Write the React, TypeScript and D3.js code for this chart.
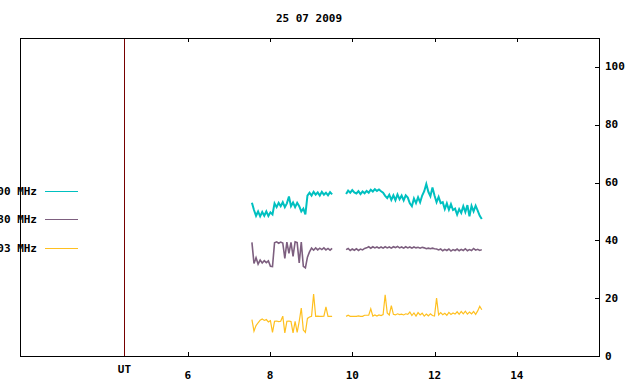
import * as d3 from "d3"

// time grid: two recording segments, sampled every 0.05 h
const segAStart = 7.56
const segBStart = 9.85
const step = 0.05

const xTicks = [6, 8, 10, 12, 14]
const yTicks = [0, 20, 40, 60, 80, 100]
const utTime = 4.46
const title = "25 07 2009"

const cyanA = [
  53, 50.5, 48.5, 50, 48.3, 49.8, 48.5, 50, 48.4, 49.7, 49, 52.8, 51.5, 53, 51.8, 53.2, 51.5, 52.8, 55.2, 51.8,
  53.1, 51.5, 53, 51.8, 50, 51, 49, 55.5, 56.5, 55.5, 56.8, 55.8, 56.6, 55.5, 56.8, 55.8, 56.5, 55.6, 56.7, 55.9,
]
const cyanB = [
  56, 57.2, 56.5, 57.4, 56.6, 56.2, 57, 56, 56.9, 56.3, 57.1, 56.5, 57.5, 56.9, 57.7, 57.1, 57.6, 57, 56.5, 55.4,
  54.6, 55.8, 54, 55.6, 53.9, 55.9, 54.2, 55.5, 53.8, 55.6, 54.8, 52.8, 51.8, 54.5, 52.9, 54.9, 53.2, 55.5, 57, 59.5,
  56.8, 55.3, 58.3, 55.5, 53.2, 55, 52.9, 53.2, 50.8, 52.8, 50.6, 52.5, 50.5, 51, 48.9, 50.8, 49.5, 51.8, 49.8, 52.2,
  48.3, 51.9, 50, 52, 50.3, 48.5, 47.4,
]

const purpleA = [
  39.3, 32, 34, 31.8, 33.2, 32.2, 33, 32.3, 32.9, 31, 30.9, 39.2, 39.5, 39, 39.4, 39.1, 33.8, 39.4, 35.5, 39.3,
  34.5, 39.5, 39.2, 32.2, 39.4, 31, 30.5, 34.2, 36, 37.3, 36.6, 37.4, 36.7, 37.3, 36.8, 37.4, 36.7, 37.2, 36.6, 37.2,
]
const purpleB = [
  36.8, 37.2, 36.5, 37, 36.6, 37.1, 36.5, 37, 36.7, 37.2, 37.4, 37.8, 37.3, 37.8, 37.4, 37.7, 37.3, 37.7, 37.3, 37.8,
  37.4, 37.7, 37.3, 37.8, 37.5, 37.9, 37.4, 37.7, 37.3, 37.8, 37.4, 37.7, 37.3, 37.7, 37.4, 37.6, 37.3, 37.6, 37.4, 37.1,
  37.3, 37.1, 37.3, 37.1, 37, 36.7, 37, 36.4, 36.9, 36.5, 37, 36.3, 36.8, 36.5, 37, 36.4, 36.9, 36.5, 37.1, 36.4,
  36.8, 36.5, 37.2, 36.6, 36.9, 36.5, 36.8,
]

const yellowA = [
  12.6, 8.6, 10.5, 11.5, 12.4, 12.8, 12.3, 12.6, 11.8, 12.2, 8.2, 12, 12.1, 11.9, 12, 13.8, 8, 12, 12.1, 11.9,
  8, 12, 8.2, 12, 16.6, 9, 8.2, 13, 13.5, 13.7, 21.4, 13.7, 13.8, 13.7, 13.7, 13.8, 17, 13.7, 13.7, 13.7,
]
const yellowB = [
  13.7, 14.1, 13.7, 13.7, 13.7, 13.7, 13.9, 13.7, 13.7, 14.1, 14.1, 14.1, 16.3, 13.8, 14.2, 13.8, 14.2, 14, 14.3, 21.2,
  14.9, 14.2, 17.4, 14.4, 14.2, 14.6, 14.3, 14.5, 14.2, 14.6, 14.4, 15.2, 14, 14.9, 13.8, 15, 14.2, 14.8, 13.8, 14.5,
  13.9, 14.6, 14, 13.8, 20, 14.2, 15, 14.3, 14.8, 14.1, 15.1, 14.4, 14.9, 14.5, 15.3, 14.4, 15.4, 14.6, 15.5, 14.5,
  15.2, 14.6, 15.4, 14.4, 15.6, 17.2, 16,
]

const seriesNames = ["2800 MHz", "1980 MHz", "1403 MHz"]
const seriesColors = ["#00c0c0", "#7d5f7f", "#ffc020"]
const seriesData = [
  [cyanA, cyanB],
  [purpleA, purpleB],
  [yellowA, yellowB],
]

const W = 640
const H = 384
const left = 20
const right = 599
const top = 38
const bottom = 356
const font = "'DejaVu Sans Mono', monospace"
// noisy records look like a thick band in the original
const bandWidths = [2, 1.6, 1.2]

const App = () => {
  const x = d3.scaleLinear().domain([1.92, 16]).range([left, right])
  const y = d3.scaleLinear().domain([0, 110]).range([bottom, top])

  const line = d3
    .line<number[]>()
    .x((d) => x(d[0]))
    .y((d) => y(d[1]))

  const toPoints = (vals: number[], start: number) => vals.map((v, i) => [start + i * step, v])

  const utX = Math.round(x(utTime)) + 0.5

  return (
    <svg
      width={W}
      height={H}
      style={{ position: "absolute", left: 0, top: 0, display: "block", background: "#fff" }}
      fontFamily={font}
      fontWeight="bold"
      fontSize={11}
    >
      {/* title */}
      <text x={309} y={18} textAnchor="middle" dominantBaseline="central">
        {title}
      </text>

      {/* UT marker */}
      <line x1={utX} x2={utX} y1={top} y2={bottom} stroke="#760000" shapeRendering="crispEdges" />
      <text x={x(utTime)} y={369} textAnchor="middle" dominantBaseline="central">
        UT
      </text>

      {/* data */}
      {seriesData.map((segs, si) =>
        segs.map((vals, k) => (
          <path
            key={`${si}-${k}`}
            d={line(toPoints(vals, k === 0 ? segAStart : segBStart)) || ""}
            fill="none"
            stroke={seriesColors[si]}
            strokeWidth={bandWidths[si]}
            strokeLinejoin="miter"
          />
        ))
      )}

      {/* frame */}
      <rect x={left + 0.5} y={top + 0.5} width={right - left} height={bottom - top} fill="none" stroke="#000" shapeRendering="crispEdges" />

      {/* x ticks, mirrored on top */}
      {xTicks.map((t) => {
        const px = Math.round(x(t)) + 0.5
        return (
          <g key={t}>
            <line x1={px} x2={px} y1={bottom} y2={bottom - 4} stroke="#000" shapeRendering="crispEdges" />
            <line x1={px} x2={px} y1={top} y2={top + 4} stroke="#000" shapeRendering="crispEdges" />
            <text x={x(t)} y={375} textAnchor="middle" dominantBaseline="central">
              {t}
            </text>
          </g>
        )
      })}

      {/* y ticks on right */}
      {yTicks.map((t) => {
        const py = Math.round(y(t)) + 0.5
        return (
          <g key={t}>
            <line x1={right} x2={right - 4} y1={py} y2={py} stroke="#000" shapeRendering="crispEdges" />
            <text x={605} y={y(t)} dominantBaseline="central">
              {t}
            </text>
          </g>
        )
      })}

      {/* legend, clipped by the left edge as in the original */}
      {seriesNames.map((name, i) => {
        const ly = [191, 219, 248][i]
        return (
          <g key={name}>
            <text x={37} y={ly} textAnchor="end" dominantBaseline="central">
              {name}
            </text>
            <line x1={45} x2={78} y1={ly + 0.5} y2={ly + 0.5} stroke={seriesColors[i]} shapeRendering="crispEdges" />
          </g>
        )
      })}
    </svg>
  )
}

export default App
